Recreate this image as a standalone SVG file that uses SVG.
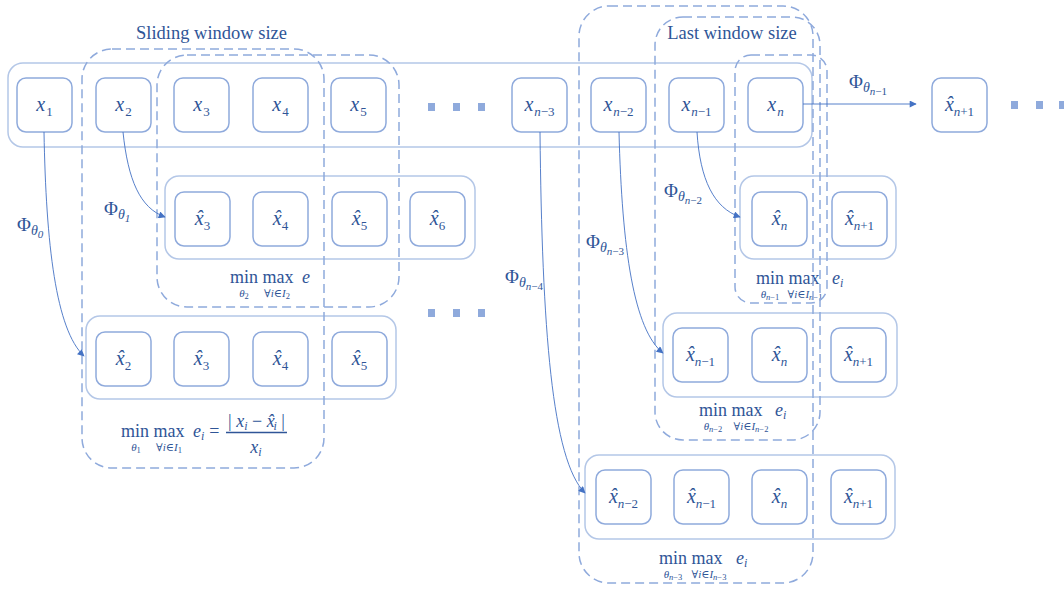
<svg xmlns="http://www.w3.org/2000/svg" width="1064" height="590" viewBox="0 0 1064 590">
  <style>
    text { font-family: "Liberation Serif", "DejaVu Serif", serif; fill: #2f5597; }
    .ct { fill: none; stroke: #b4c7e7; stroke-width: 1.5; }
    .bx { fill: none; stroke: #8faadc; stroke-width: 1.5; }
    .win { fill: none; stroke: #8faadc; stroke-width: 1.5; stroke-dasharray: 9 5; }
    .arr { fill: none; stroke: #4472c4; stroke-width: 0.9; marker-end: url(#ah); }
    .dot { fill: #8faadc; }
    .lab { font-size: 20px; }
    .it { font-style: italic; }
    .sb { font-size: 13px; }
    .ttl { font-size: 18.5px; }
    .phi { font-size: 19px; }
    .phs { font-size: 14px; font-style: italic; }
    .phss { font-size: 11px; font-style: italic; }
    .mm { font-size: 18px; }
    .mms { font-size: 11px; }
    .mmss { font-size: 8.5px; }
  </style>
  <defs>
    <marker id="ah" viewBox="0 0 10 10" refX="9" refY="5" markerWidth="8" markerHeight="7" markerUnits="userSpaceOnUse" orient="auto">
      <path d="M0,0 L10,5 L0,10 z" fill="#4472c4"/>
    </marker>
  </defs>

  <!-- input sequence row -->
  <g id="input-row">
    <rect class="ct" x="8" y="63" width="804" height="84" rx="15"/>
    <g id="x1"><rect class="bx" x="17" y="78" width="55" height="54" rx="9"/>
      <text class="lab" x="44.5" y="110.5" text-anchor="middle"><tspan class="it">x</tspan><tspan class="sb" dx="1" dy="5">1</tspan></text></g>
    <g id="x2"><rect class="bx" x="96" y="78" width="55" height="54" rx="9"/>
      <text class="lab" x="123.5" y="110.5" text-anchor="middle"><tspan class="it">x</tspan><tspan class="sb" dx="1" dy="5">2</tspan></text></g>
    <g id="x3"><rect class="bx" x="174" y="78" width="55" height="54" rx="9"/>
      <text class="lab" x="201.5" y="110.5" text-anchor="middle"><tspan class="it">x</tspan><tspan class="sb" dx="1" dy="5">3</tspan></text></g>
    <g id="x4"><rect class="bx" x="253" y="78" width="55" height="54" rx="9"/>
      <text class="lab" x="280.5" y="110.5" text-anchor="middle"><tspan class="it">x</tspan><tspan class="sb" dx="1" dy="5">4</tspan></text></g>
    <g id="x5"><rect class="bx" x="331" y="78" width="55" height="54" rx="9"/>
      <text class="lab" x="358.5" y="110.5" text-anchor="middle"><tspan class="it">x</tspan><tspan class="sb" dx="1" dy="5">5</tspan></text></g>
    <g id="xn-3"><rect class="bx" x="512" y="78" width="55" height="54" rx="9"/>
      <text class="lab" x="539.5" y="110.5" text-anchor="middle"><tspan class="it">x</tspan><tspan class="sb" dx="1" dy="5"><tspan class="it">n</tspan>−3</tspan></text></g>
    <g id="xn-2"><rect class="bx" x="591" y="78" width="55" height="54" rx="9"/>
      <text class="lab" x="618.5" y="110.5" text-anchor="middle"><tspan class="it">x</tspan><tspan class="sb" dx="1" dy="5"><tspan class="it">n</tspan>−2</tspan></text></g>
    <g id="xn-1"><rect class="bx" x="669" y="78" width="55" height="54" rx="9"/>
      <text class="lab" x="696.5" y="110.5" text-anchor="middle"><tspan class="it">x</tspan><tspan class="sb" dx="1" dy="5"><tspan class="it">n</tspan>−1</tspan></text></g>
    <g id="xn"><rect class="bx" x="748" y="78" width="55" height="54" rx="9"/>
      <text class="lab" x="775.5" y="110.5" text-anchor="middle"><tspan class="it">x</tspan><tspan class="sb it" dx="1" dy="5">n</tspan></text></g>
  </g>

  <!-- predicted next value -->
  <g id="xhat-n+1"><rect class="bx" x="932" y="78" width="55" height="54" rx="9"/>
    <text class="lab" x="959.5" y="110.5" text-anchor="middle"><tspan class="it">x</tspan><tspan class="it" dx="-7.8">ˆ</tspan><tspan class="sb" dx="1" dy="5"><tspan class="it">n</tspan>+1</tspan></text></g>

  <!-- ellipsis markers -->
  <g id="ellipses">
    <rect class="dot" x="428" y="103" width="7" height="8"/>
    <rect class="dot" x="453" y="103" width="7" height="8"/>
    <rect class="dot" x="478" y="103" width="7" height="8"/>
    <rect class="dot" x="428" y="309" width="7" height="8"/>
    <rect class="dot" x="453" y="309" width="7" height="8"/>
    <rect class="dot" x="478" y="309" width="7" height="8"/>
    <rect class="dot" x="1011" y="101" width="7" height="8"/>
    <rect class="dot" x="1036" y="101" width="7" height="8"/>
    <rect class="dot" x="1059" y="101" width="7" height="8"/>
  </g>

  <!-- prediction rows, left -->
  <g id="pred-theta2">
    <rect class="ct" x="165" y="176" width="310" height="83" rx="14"/>
    <g id="p2-x3"><rect class="bx" x="175" y="192" width="55" height="54" rx="9"/>
      <text class="lab" x="202.5" y="224.5" text-anchor="middle"><tspan class="it">x</tspan><tspan class="it" dx="-7.8">ˆ</tspan><tspan class="sb" dx="1" dy="5">3</tspan></text></g>
    <g id="p2-x4"><rect class="bx" x="253" y="192" width="55" height="54" rx="9"/>
      <text class="lab" x="280.5" y="224.5" text-anchor="middle"><tspan class="it">x</tspan><tspan class="it" dx="-7.8">ˆ</tspan><tspan class="sb" dx="1" dy="5">4</tspan></text></g>
    <g id="p2-x5"><rect class="bx" x="332" y="192" width="55" height="54" rx="9"/>
      <text class="lab" x="359.5" y="224.5" text-anchor="middle"><tspan class="it">x</tspan><tspan class="it" dx="-7.8">ˆ</tspan><tspan class="sb" dx="1" dy="5">5</tspan></text></g>
    <g id="p2-x6"><rect class="bx" x="410" y="192" width="55" height="54" rx="9"/>
      <text class="lab" x="437.5" y="224.5" text-anchor="middle"><tspan class="it">x</tspan><tspan class="it" dx="-7.8">ˆ</tspan><tspan class="sb" dx="1" dy="5">6</tspan></text></g>
    <text class="mm" x="230" y="283">min max <tspan class="it" x="302">e</tspan><tspan class="mms" x="244" y="297" text-anchor="middle"><tspan class="it">θ</tspan><tspan class="mmss" dy="2">2</tspan></tspan><tspan class="mms" x="277" y="297" text-anchor="middle">∀<tspan class="it">i</tspan>∈<tspan class="it">I</tspan><tspan class="mmss" dy="2">2</tspan></tspan></text>
  </g>

  <g id="pred-theta1">
    <rect class="ct" x="86" y="316" width="310" height="83" rx="14"/>
    <g id="p1-x2"><rect class="bx" x="96" y="332" width="55" height="54" rx="9"/>
      <text class="lab" x="123.5" y="364.5" text-anchor="middle"><tspan class="it">x</tspan><tspan class="it" dx="-7.8">ˆ</tspan><tspan class="sb" dx="1" dy="5">2</tspan></text></g>
    <g id="p1-x3"><rect class="bx" x="174" y="332" width="55" height="54" rx="9"/>
      <text class="lab" x="201.5" y="364.5" text-anchor="middle"><tspan class="it">x</tspan><tspan class="it" dx="-7.8">ˆ</tspan><tspan class="sb" dx="1" dy="5">3</tspan></text></g>
    <g id="p1-x4"><rect class="bx" x="253" y="332" width="55" height="54" rx="9"/>
      <text class="lab" x="280.5" y="364.5" text-anchor="middle"><tspan class="it">x</tspan><tspan class="it" dx="-7.8">ˆ</tspan><tspan class="sb" dx="1" dy="5">4</tspan></text></g>
    <g id="p1-x5"><rect class="bx" x="332" y="332" width="55" height="54" rx="9"/>
      <text class="lab" x="359.5" y="364.5" text-anchor="middle"><tspan class="it">x</tspan><tspan class="it" dx="-7.8">ˆ</tspan><tspan class="sb" dx="1" dy="5">5</tspan></text></g>
    <text class="mm" x="121" y="437">min max <tspan class="it" x="193">e</tspan><tspan class="it" font-size="12" dy="3">i</tspan><tspan dx="5" dy="-3">=</tspan><tspan class="mms" x="136" y="451" text-anchor="middle"><tspan class="it">θ</tspan><tspan class="mmss" dy="2">1</tspan></tspan><tspan class="mms" x="169" y="451" text-anchor="middle">∀<tspan class="it">i</tspan>∈<tspan class="it">I</tspan><tspan class="mmss" dy="2">1</tspan></tspan></text>
    <text class="mm" x="256.5" y="427" text-anchor="middle">| <tspan class="it">x</tspan><tspan class="it" font-size="12" dy="3">i</tspan><tspan dy="-3"> − </tspan><tspan class="it">x</tspan><tspan class="it" dx="-7.2">ˆ</tspan><tspan class="it" font-size="12" dy="3">i</tspan><tspan dy="-3"> |</tspan></text>
    <line x1="226" y1="432.5" x2="287" y2="432.5" stroke="#2f5597" stroke-width="1.4"/>
    <text class="mm" x="256" y="453" text-anchor="middle"><tspan class="it">x</tspan><tspan class="it" font-size="12" dy="3">i</tspan></text>
  </g>

  <!-- prediction rows, right -->
  <g id="pred-theta-n-1">
    <rect class="ct" x="740" y="176" width="156" height="83" rx="14"/>
    <g id="pn1-xn"><rect class="bx" x="752" y="192" width="55" height="54" rx="9"/>
      <text class="lab" x="779.5" y="224.5" text-anchor="middle"><tspan class="it">x</tspan><tspan class="it" dx="-7.8">ˆ</tspan><tspan class="sb it" dx="1" dy="5">n</tspan></text></g>
    <g id="pn1-xn+1"><rect class="bx" x="832" y="192" width="55" height="54" rx="9"/>
      <text class="lab" x="859.5" y="224.5" text-anchor="middle"><tspan class="it">x</tspan><tspan class="it" dx="-7.8">ˆ</tspan><tspan class="sb" dx="1" dy="5"><tspan class="it">n</tspan>+1</tspan></text></g>
    <text class="mm" x="756" y="284">min max <tspan class="it" x="832">e</tspan><tspan class="it" font-size="12" dy="3">i</tspan><tspan class="mms" x="770" y="298" text-anchor="middle"><tspan class="it">θ</tspan><tspan class="mmss" dy="2"><tspan class="it">n</tspan>−1</tspan></tspan><tspan class="mms" x="805" y="298" text-anchor="middle">∀<tspan class="it">i</tspan>∈<tspan class="it">I</tspan><tspan class="mmss" dy="2"><tspan class="it">n</tspan>−1</tspan></tspan></text>
  </g>

  <g id="pred-theta-n-2">
    <rect class="ct" x="663" y="313" width="234" height="84" rx="14"/>
    <g id="pn2-xn-1"><rect class="bx" x="673" y="328" width="55" height="54" rx="9"/>
      <text class="lab" x="700.5" y="360.5" text-anchor="middle"><tspan class="it">x</tspan><tspan class="it" dx="-7.8">ˆ</tspan><tspan class="sb" dx="1" dy="5"><tspan class="it">n</tspan>−1</tspan></text></g>
    <g id="pn2-xn"><rect class="bx" x="752" y="328" width="55" height="54" rx="9"/>
      <text class="lab" x="779.5" y="360.5" text-anchor="middle"><tspan class="it">x</tspan><tspan class="it" dx="-7.8">ˆ</tspan><tspan class="sb it" dx="1" dy="5">n</tspan></text></g>
    <g id="pn2-xn+1"><rect class="bx" x="831" y="328" width="55" height="54" rx="9"/>
      <text class="lab" x="858.5" y="360.5" text-anchor="middle"><tspan class="it">x</tspan><tspan class="it" dx="-7.8">ˆ</tspan><tspan class="sb" dx="1" dy="5"><tspan class="it">n</tspan>+1</tspan></text></g>
    <text class="mm" x="699" y="416">min max <tspan class="it" x="775">e</tspan><tspan class="it" font-size="12" dy="3">i</tspan><tspan class="mms" x="713" y="430" text-anchor="middle"><tspan class="it">θ</tspan><tspan class="mmss" dy="2"><tspan class="it">n</tspan>−2</tspan></tspan><tspan class="mms" x="751" y="430" text-anchor="middle">∀<tspan class="it">i</tspan>∈<tspan class="it">I</tspan><tspan class="mmss" dy="2"><tspan class="it">n</tspan>−2</tspan></tspan></text>
  </g>

  <g id="pred-theta-n-3">
    <rect class="ct" x="585" y="455" width="310" height="84" rx="14"/>
    <g id="pn3-xn-2"><rect class="bx" x="596" y="470" width="55" height="54" rx="9"/>
      <text class="lab" x="623.5" y="502.5" text-anchor="middle"><tspan class="it">x</tspan><tspan class="it" dx="-7.8">ˆ</tspan><tspan class="sb" dx="1" dy="5"><tspan class="it">n</tspan>−2</tspan></text></g>
    <g id="pn3-xn-1"><rect class="bx" x="674" y="470" width="55" height="54" rx="9"/>
      <text class="lab" x="701.5" y="502.5" text-anchor="middle"><tspan class="it">x</tspan><tspan class="it" dx="-7.8">ˆ</tspan><tspan class="sb" dx="1" dy="5"><tspan class="it">n</tspan>−1</tspan></text></g>
    <g id="pn3-xn"><rect class="bx" x="752" y="470" width="55" height="54" rx="9"/>
      <text class="lab" x="779.5" y="502.5" text-anchor="middle"><tspan class="it">x</tspan><tspan class="it" dx="-7.8">ˆ</tspan><tspan class="sb it" dx="1" dy="5">n</tspan></text></g>
    <g id="pn3-xn+1"><rect class="bx" x="831" y="470" width="55" height="54" rx="9"/>
      <text class="lab" x="858.5" y="502.5" text-anchor="middle"><tspan class="it">x</tspan><tspan class="it" dx="-7.8">ˆ</tspan><tspan class="sb" dx="1" dy="5"><tspan class="it">n</tspan>+1</tspan></text></g>
    <text class="mm" x="659" y="564">min max <tspan class="it" x="736">e</tspan><tspan class="it" font-size="12" dy="3">i</tspan><tspan class="mms" x="673" y="578" text-anchor="middle"><tspan class="it">θ</tspan><tspan class="mmss" dy="2"><tspan class="it">n</tspan>−3</tspan></tspan><tspan class="mms" x="709" y="578" text-anchor="middle">∀<tspan class="it">i</tspan>∈<tspan class="it">I</tspan><tspan class="mmss" dy="2"><tspan class="it">n</tspan>−3</tspan></tspan></text>
  </g>

  <!-- sliding windows -->
  <g id="windows">
    <rect class="win" x="82" y="49" width="242" height="419" rx="30"/>
    <rect class="win" x="157" y="55" width="242" height="252" rx="30"/>
    <rect class="win" x="579" y="6" width="234" height="577" rx="30"/>
    <rect class="win" x="655" y="17" width="165" height="423" rx="28"/>
    <rect class="win" x="735" y="55" width="92" height="248" rx="16"/>
    <text class="ttl" x="211.5" y="39" text-anchor="middle">Sliding window size</text>
    <text class="ttl" x="732" y="38.5" text-anchor="middle">Last window size</text>
  </g>

  <!-- model mappings -->
  <g id="connectors">
    <path class="arr" d="M44,132 C46,245 56,330 84,356"/>
    <path class="arr" d="M123,132 C128,180 140,208 165,217"/>
    <path class="arr" d="M540,132 C542,330 552,460 585,493"/>
    <path class="arr" d="M619,132 C622,250 634,330 663,353"/>
    <path class="arr" d="M697,132 C700,180 714,208 740,217"/>
    <path class="arr" d="M803,104 L916,104"/>
    <text class="phi" x="17" y="231">Φ<tspan class="phs" dy="4">θ</tspan><tspan class="phss" dy="3">0</tspan></text>
    <text class="phi" x="104" y="215">Φ<tspan class="phs" dy="4">θ</tspan><tspan class="phss" dy="3">1</tspan></text>
    <text class="phi" x="505" y="283">Φ<tspan class="phs" dy="4">θ</tspan><tspan class="phss" dy="3">n<tspan font-style="normal">−4</tspan></tspan></text>
    <text class="phi" x="586" y="248">Φ<tspan class="phs" dy="4">θ</tspan><tspan class="phss" dy="3">n<tspan font-style="normal">−3</tspan></tspan></text>
    <text class="phi" x="664" y="197">Φ<tspan class="phs" dy="4">θ</tspan><tspan class="phss" dy="3">n<tspan font-style="normal">−2</tspan></tspan></text>
    <text class="phi" x="849" y="88">Φ<tspan class="phs" dy="4">θ</tspan><tspan class="phss" dy="3">n<tspan font-style="normal">−1</tspan></tspan></text>
  </g>
</svg>
